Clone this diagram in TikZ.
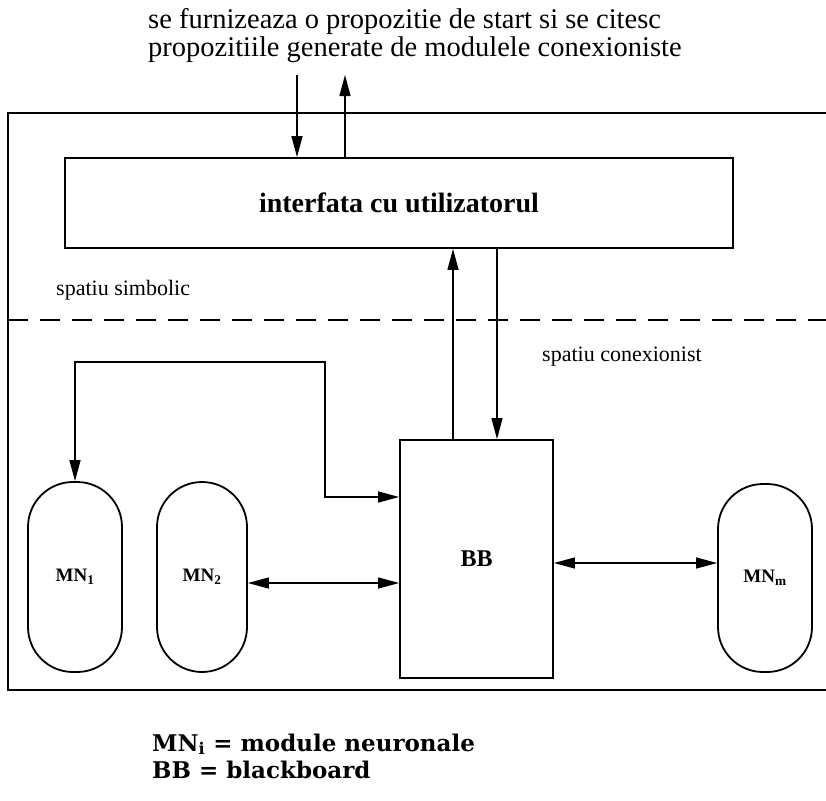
\documentclass[tikz,border=0pt]{standalone}
\usepackage{fontspec}
\setmainfont{Liberation Serif}
\newfontfamily\legendfont{DejaVu Serif}
\usetikzlibrary{arrows.meta}
\begin{document}
\begin{tikzpicture}[x=1pt,y=-1pt,
  every node/.style={inner sep=0pt},
  conn/.style={line width=1.3pt, arrows={-Triangle[length=21pt,width=11pt]}},
  both/.style={line width=1.3pt, arrows={Triangle[length=21pt,width=11pt]-Triangle[length=21pt,width=11pt]}},
  block/.style={draw, line width=1.8pt},
  module/.style={draw, line width=1.8pt, rounded corners=45pt, font=\fontsize{19}{21}\selectfont\bfseries},
  note/.style={font=\fontsize{22}{24}\selectfont}]
\useasboundingbox (0,0) rectangle (826,800);

% outer frame, open on the right
\draw[line width=2pt] (826,113) -- (8,113) -- (8,690) -- (826,690);

% caption above the frame
\node[align=left, anchor=west, font=\fontsize{28.5}{28}\selectfont] (top) at (148,36)
  {se furnizeaza o propozitie de start si se citesc\\propozitiile generate de modulele conexioniste};

% user interface
\node[block, minimum width=668pt, minimum height=90pt,
  font=\fontsize{28}{30}\selectfont\bfseries] (ui) at (399,203) {interfata cu utilizatorul};

% separation between the two spaces
\node[note, anchor=west] (sym) at (56,290) {spatiu simbolic};
\draw[line width=2.2pt, dash pattern=on 20pt off 12pt] (8,320) -- (826,320);
\node[note, anchor=west] (con) at (542,357) {spatiu conexionist};

% blackboard and neural modules
\node[block, minimum width=153pt, minimum height=238pt,
  font=\fontsize{24}{26}\selectfont\bfseries] (bb) at (476.5,559) {BB};
\node[module, minimum width=94pt, minimum height=190pt] (mn1) at (75,577) {MN\textsubscript{1}};
\node[module, minimum width=90pt, minimum height=190pt] (mn2) at (202,577) {MN\textsubscript{2}};
\node[module, minimum width=94pt, minimum height=188pt] (mnm) at (765,578) {MN\textsubscript{m}};

% links to the outside
\coordinate (in) at (297,75);
\coordinate (out) at (345,75);
\draw[conn] (in) -- (in |- ui.north);
\draw[conn] (out |- ui.north) -- (out);

% links between interface and blackboard
\draw[conn] ([xshift=-23.5pt]bb.north) -- ([xshift=-23.5pt]bb.north |- ui.south);
\draw[conn] ([xshift=20.5pt]bb.north |- ui.south) -- ([xshift=20.5pt]bb.north);

% links between blackboard and modules
\coordinate (bend) at (325,362);
\draw[both] (mn1.north) |- (bend) |- ([yshift=62pt]bb.west);
\draw[both] ([yshift=-6pt]mn2.east) -- ([yshift=-6pt]mn2.east -| bb.west);
\draw[both] ([yshift=-4pt]bb.east) -- ([yshift=-4pt]bb.east -| mnm.west);

% legend
\node[anchor=west, align=left, font=\legendfont\fontsize{23}{27}\selectfont\bfseries] (legend) at (152,756)
  {MN\textsubscript{i} = module neuronale\\BB = blackboard};
\end{tikzpicture}
\end{document}
